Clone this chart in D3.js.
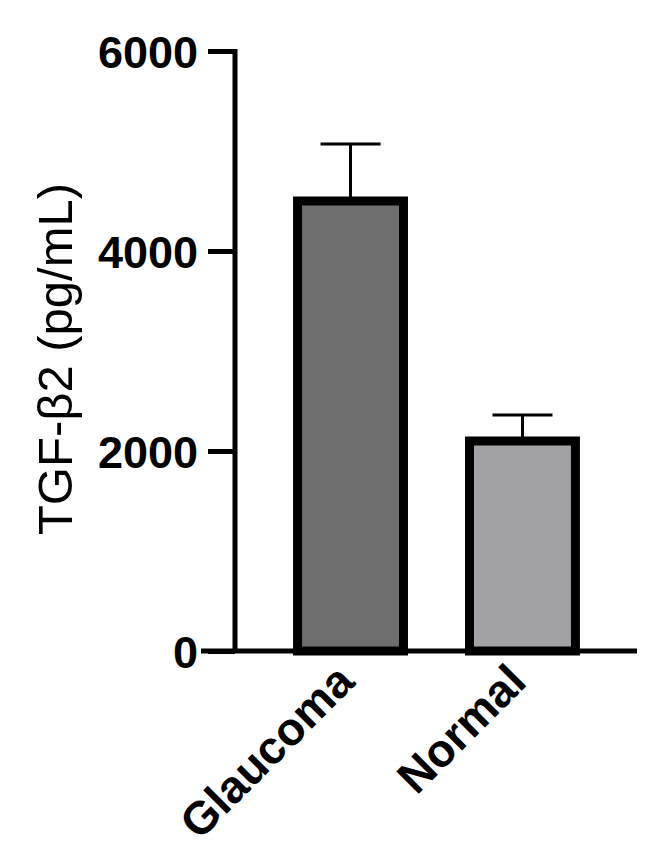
<!DOCTYPE html>
<html>
  <head>
    <meta charset="UTF-8" />
    <style>
      body {
        margin: 0;
        background: #fff;
      }
      svg {
        display: block;
        font-family: "Liberation Sans", Arial, sans-serif;
      }
    </style>
  </head>
  <body>
    <svg></svg>

    <script src="https://d3js.org/d3.v7.min.js"></script>

    <script>
      let width = 667,
        height = 859;

      // chart data
      const groups = ["Glaucoma", "Normal"];
      const means = [4500, 2100];
      const errTops = [5070, 2360];
      const fills = ["#6e6e6e", "#a2a1a6"];
      const yTicks = [0, 2000, 4000, 6000];

      let svg = d3.select("svg").attr("width", width).attr("height", height);

      let y = d3.scaleLinear().domain([0, 6000]).range([651, 51]);
      let x = d3
        .scaleBand()
        .domain(groups)
        .range([236, 637])
        .paddingInner(0.384)
        .paddingOuter(0.358);

      // y axis
      let yAxis = d3
        .axisLeft(y)
        .tickValues(yTicks)
        .tickSize(27)
        .tickPadding(10)
        .tickFormat(d3.format("d"));
      let gy = svg
        .append("g")
        .attr("transform", "translate(235,0)")
        .call(yAxis);
      gy.select(".domain")
        .attr("d", "M0," + (y(6000) - 2) + "V" + (y(0) + 2))
        .attr("stroke", "#000")
        .attr("stroke-width", 5);
      gy.selectAll(".tick line").attr("stroke", "#000").attr("stroke-width", 5);
      gy.selectAll(".tick text")
        .attr("fill", "#000")
        .style("font-size", "45px")
        .style("font-weight", "bold")
        .attr("dy", "0.36em");

      // error bars (drawn before bars so stems start at bar tops)
      let err = svg.append("g");
      groups.forEach(function (g, i) {
        let cx = x(g) + x.bandwidth() / 2;
        err
          .append("line")
          .attr("x1", cx)
          .attr("x2", cx)
          .attr("y1", y(means[i]))
          .attr("y2", y(errTops[i]))
          .attr("stroke", "#000")
          .attr("stroke-width", 3);
        err
          .append("line")
          .attr("x1", cx - 30)
          .attr("x2", cx + 30)
          .attr("y1", y(errTops[i]))
          .attr("y2", y(errTops[i]))
          .attr("stroke", "#000")
          .attr("stroke-width", 3);
      });

      // bars
      svg
        .append("g")
        .selectAll("rect")
        .data(groups)
        .enter()
        .append("rect")
        .attr("x", (d) => x(d))
        .attr("y", (d, i) => y(means[i]))
        .attr("width", x.bandwidth())
        .attr("height", (d, i) => y(0) - y(means[i]))
        .attr("fill", (d, i) => fills[i])
        .attr("stroke", "#000")
        .attr("stroke-width", 9);

      // x axis line
      svg
        .append("line")
        .attr("x1", 201)
        .attr("x2", 637)
        .attr("y1", y(0))
        .attr("y2", y(0))
        .attr("stroke", "#000")
        .attr("stroke-width", 5);

      // x labels, rotated
      svg
        .append("g")
        .selectAll("text")
        .data(groups)
        .enter()
        .append("text")
        .attr("transform", function (d) {
          let cx = x(d) + x.bandwidth() / 2 + 6;
          return "translate(" + cx + "," + 684 + ") rotate(-45)";
        })
        .attr("text-anchor", "end")
        .style("font-size", "46px")
        .style("font-weight", "bold")
        .text((d) => d);

      // y label
      svg
        .append("text")
        .attr("transform", "translate(72,359) rotate(-90)")
        .attr("text-anchor", "middle")
        .style("font-size", "49px")
        .text("TGF-β2 (pg/mL)");
    </script>
  </body>
</html>
